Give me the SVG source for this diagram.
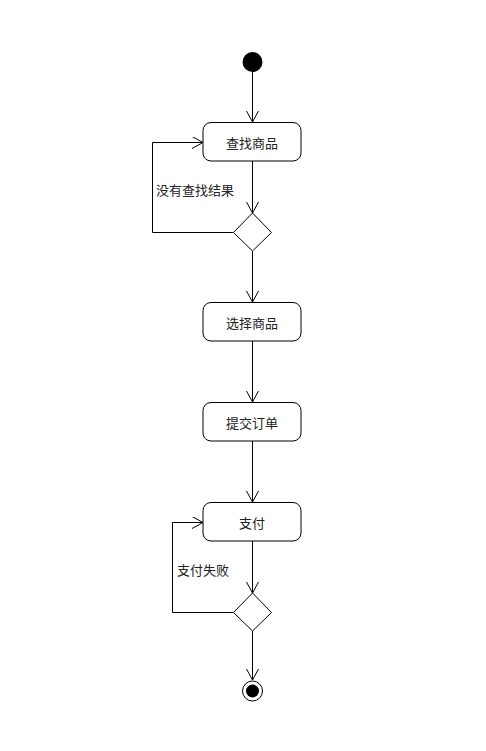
<svg xmlns="http://www.w3.org/2000/svg" width="486" height="751" viewBox="0 0 486 751">
<style>
.box{fill:#fff;stroke:#000;stroke-width:1}
.dia{fill:#fff;stroke:#000;stroke-width:1}
.ln{fill:none;stroke:#000;stroke-width:1}
.t{font-family:"Noto Sans CJK SC","Noto Sans CJK JP",sans-serif;font-size:13px;fill:#222}
.c{text-anchor:middle;dominant-baseline:central}
</style>
<defs>
<marker id="arr" markerWidth="14" markerHeight="14" refX="11" refY="6" orient="auto" markerUnits="userSpaceOnUse">
<path d="M0,0 L11,6 L0,12" fill="none" stroke="#000" stroke-width="1"/>
</marker>
</defs>
<rect width="486" height="751" fill="#fff"/>
<g id="connectors">
<line class="ln" x1="252.5" y1="72" x2="252.5" y2="122" marker-end="url(#arr)"/>
<line class="ln" x1="252.5" y1="161" x2="252.5" y2="213" marker-end="url(#arr)"/>
<polyline class="ln" points="233,232.5 152.5,232.5 152.5,142.5 203,142.5" marker-end="url(#arr)"/>
<line class="ln" x1="252.5" y1="251" x2="252.5" y2="302" marker-end="url(#arr)"/>
<line class="ln" x1="252.5" y1="341" x2="252.5" y2="402" marker-end="url(#arr)"/>
<line class="ln" x1="252.5" y1="441" x2="252.5" y2="502" marker-end="url(#arr)"/>
<line class="ln" x1="252.5" y1="541" x2="252.5" y2="593" marker-end="url(#arr)"/>
<polyline class="ln" points="233,612.5 172.5,612.5 172.5,522.5 203,522.5" marker-end="url(#arr)"/>
<line class="ln" x1="252.5" y1="631" x2="252.5" y2="680" marker-end="url(#arr)"/>
<text class="t" x="156" y="195">没有查找结果</text>
<text class="t" x="177" y="575">支付失败</text>
</g>
<g id="start"><circle cx="252.5" cy="62" r="10" fill="#000"/></g>
<g id="n1"><rect class="box" x="203" y="122.5" width="98" height="38.5" rx="8"/><text class="t c" x="252" y="142">查找商品</text></g>
<g id="d1"><polygon class="dia" points="252.5,213 271.5,232.5 252.5,251 233.5,232.5"/></g>
<g id="n2"><rect class="box" x="203" y="302.5" width="98" height="38.5" rx="8"/><text class="t c" x="252" y="322">选择商品</text></g>
<g id="n3"><rect class="box" x="203" y="402.5" width="98" height="38.5" rx="8"/><text class="t c" x="252" y="422">提交订单</text></g>
<g id="n4"><rect class="box" x="203" y="502.5" width="98" height="38.5" rx="8"/><text class="t c" x="252" y="522">支付</text></g>
<g id="d2"><polygon class="dia" points="252.5,593 271.5,612.5 252.5,631 233.5,612.5"/></g>
<g id="end"><circle cx="252.5" cy="691" r="10" fill="#fff" stroke="#000"/><circle cx="252.5" cy="691" r="6.5" fill="#000"/></g>
</svg>
